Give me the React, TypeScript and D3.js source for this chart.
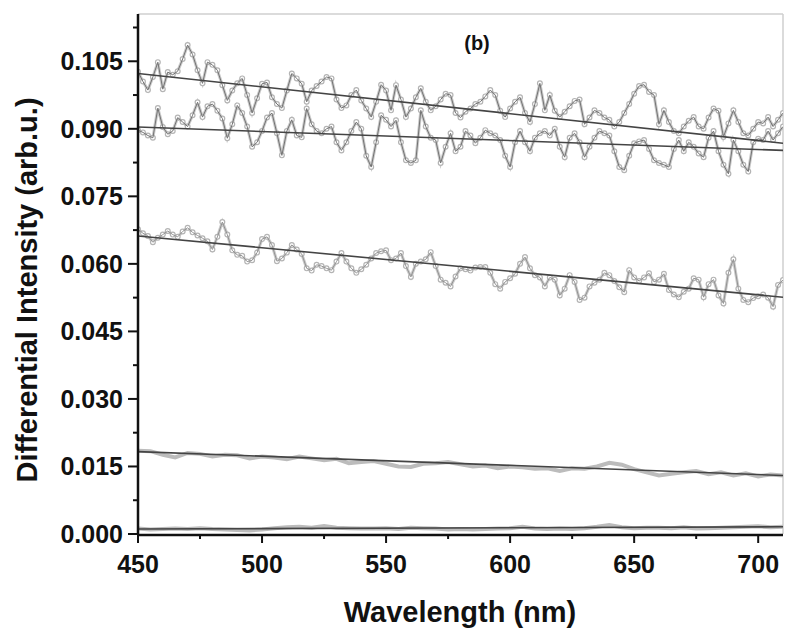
import * as d3 from 'd3';

// wavelength grids (nm)
const wl2 = d3.range(450, 711, 2);
const wl5 = d3.range(450, 711, 5);

// top spectrum, sampled every 2 nm
const seriesA = [
  0.1027, 0.1005, 0.0986, 0.1015, 0.1048, 0.0988, 0.1026, 0.1020, 0.1028, 0.1055,
  0.1086, 0.1065, 0.1030, 0.1001, 0.1048, 0.1042, 0.1030, 0.0997, 0.0963, 0.0985,
  0.1001, 0.1012, 0.0975, 0.0935, 0.0968, 0.1000, 0.1003, 0.0970, 0.0955, 0.0946,
  0.0985, 0.1023, 0.1012, 0.1000, 0.0960, 0.0985, 0.0995, 0.1005, 0.1015, 0.1012,
  0.0965, 0.0946, 0.0952, 0.0975, 0.0986, 0.0963, 0.0945, 0.0926, 0.0960, 0.0998,
  0.0985, 0.0941, 0.0997, 0.0965, 0.0926, 0.0945, 0.0970, 0.0990, 0.0960, 0.0941,
  0.0950, 0.0965, 0.0978, 0.0975, 0.0935, 0.0925, 0.0938, 0.0945, 0.0955, 0.0960,
  0.0972, 0.0986, 0.0975, 0.0940, 0.0926, 0.0945, 0.0960, 0.0970, 0.0935, 0.0915,
  0.0955, 0.1001, 0.0941, 0.0975, 0.0940, 0.0926, 0.0938, 0.0950, 0.0962, 0.0965,
  0.0910, 0.0925, 0.0941, 0.0935, 0.0925, 0.0920, 0.0905, 0.0915, 0.0935, 0.0955,
  0.0978, 0.0995, 0.0998, 0.0982, 0.0975, 0.0910, 0.0941, 0.0915, 0.0895, 0.0890,
  0.0905, 0.0918, 0.0926, 0.0905, 0.0900, 0.0925, 0.0945, 0.0940, 0.0882, 0.0912,
  0.0941, 0.0915, 0.0890, 0.0885, 0.0900, 0.0915, 0.0912, 0.0926, 0.0905, 0.0920,
  0.0935,
];

const seriesB = [
  0.0897, 0.0892, 0.0885, 0.0880, 0.0946, 0.0904, 0.0888, 0.0895, 0.0925, 0.0915,
  0.0905, 0.0930, 0.0959, 0.0926, 0.0950, 0.0955, 0.0940, 0.0923, 0.0879, 0.0910,
  0.0952, 0.0935, 0.0905, 0.0860, 0.0870, 0.0895, 0.0925, 0.0935, 0.0890, 0.0841,
  0.0895, 0.0920, 0.0885, 0.0881, 0.0945, 0.0910, 0.0895, 0.0890, 0.0900, 0.0905,
  0.0870, 0.0852, 0.0870, 0.0895, 0.0915, 0.0900, 0.0840, 0.0815, 0.0870, 0.0930,
  0.0920, 0.0905, 0.0919, 0.0870, 0.0830, 0.0824, 0.0830, 0.0941, 0.0905, 0.0880,
  0.0875, 0.0824, 0.0860, 0.0890, 0.0850, 0.0860, 0.0895, 0.0885, 0.0868, 0.0880,
  0.0897, 0.0890, 0.0885, 0.0875, 0.0840, 0.0815, 0.0870, 0.0895, 0.0870, 0.0850,
  0.0880, 0.0890, 0.0895, 0.0885, 0.0900, 0.0860, 0.0837, 0.0880, 0.0890, 0.0870,
  0.0837, 0.0860, 0.0880, 0.0895, 0.0890, 0.0885, 0.0850, 0.0815, 0.0808, 0.0840,
  0.0868, 0.0872, 0.0875, 0.0855, 0.0830, 0.0824, 0.0820, 0.0815, 0.0855, 0.0875,
  0.0850, 0.0870, 0.0860, 0.0845, 0.0837, 0.0880, 0.0895, 0.0850, 0.0820, 0.0800,
  0.0875, 0.0850, 0.0820, 0.0805, 0.0870, 0.0878, 0.0875, 0.0895, 0.0875, 0.0890,
  0.0905,
];

const seriesC = [
  0.0677, 0.0668, 0.0662, 0.0648, 0.0658, 0.0665, 0.0673, 0.0665, 0.0660, 0.0672,
  0.0680, 0.0670, 0.0663, 0.0657, 0.0650, 0.0632, 0.0660, 0.0693, 0.0665, 0.0630,
  0.0620, 0.0618, 0.0605, 0.0608, 0.0625, 0.0655, 0.0660, 0.0642, 0.0606, 0.0612,
  0.0625, 0.0642, 0.0632, 0.0622, 0.0590, 0.0585, 0.0598, 0.0595, 0.0590, 0.0586,
  0.0605, 0.0624, 0.0605, 0.0590, 0.0580, 0.0588, 0.0598, 0.0612, 0.0624, 0.0628,
  0.0630, 0.0608, 0.0612, 0.0624, 0.0595, 0.0571, 0.0600, 0.0605, 0.0610, 0.0626,
  0.0595, 0.0565, 0.0558, 0.0550, 0.0572, 0.0590, 0.0588, 0.0585, 0.0592, 0.0593,
  0.0593, 0.0580, 0.0555, 0.0545, 0.0560, 0.0568, 0.0578, 0.0600, 0.0615, 0.0590,
  0.0575, 0.0570, 0.0550, 0.0570, 0.0565, 0.0530, 0.0545, 0.0575, 0.0560, 0.0520,
  0.0525, 0.0550, 0.0558, 0.0565, 0.0580, 0.0575, 0.0562, 0.0548, 0.0537, 0.0586,
  0.0570, 0.0562, 0.0570, 0.0579, 0.0560, 0.0565, 0.0578, 0.0542, 0.0532, 0.0526,
  0.0538, 0.0545, 0.0568, 0.0565, 0.0526, 0.0555, 0.0565, 0.0530, 0.0512, 0.0580,
  0.0610, 0.0545, 0.0520, 0.0515, 0.0524, 0.0528, 0.0532, 0.0525, 0.0505, 0.0553,
  0.0564,
];

// the two low spectra, sampled every 5 nm
const seriesD = [
  0.0185, 0.0184, 0.0176, 0.0170, 0.0180, 0.0178, 0.0172, 0.0176, 0.0175, 0.0168,
  0.0172, 0.0170, 0.0166, 0.0172, 0.0168, 0.0164, 0.0167, 0.0157, 0.0160, 0.0162,
  0.0156, 0.0150, 0.0149, 0.0156, 0.0157, 0.0160, 0.0155, 0.0150, 0.0152, 0.0146,
  0.0150, 0.0148, 0.0145, 0.0146, 0.0140, 0.0146, 0.0145, 0.0150, 0.0158, 0.0154,
  0.0144, 0.0137, 0.0130, 0.0134, 0.0137, 0.0140, 0.0133, 0.0137, 0.0130, 0.0135,
  0.0128, 0.0132, 0.0130,
];

const seriesE = [
  0.0012, 0.0010, 0.0011, 0.0012, 0.0011, 0.0013, 0.0011, 0.0010, 0.0009, 0.0008,
  0.0010, 0.0013, 0.0015, 0.0016, 0.0014, 0.0018, 0.0014, 0.0013, 0.0012, 0.0012,
  0.0013, 0.0011, 0.0014, 0.0013, 0.0012, 0.0010, 0.0011, 0.0010, 0.0011, 0.0012,
  0.0013, 0.0016, 0.0012, 0.0011, 0.0012, 0.0011, 0.0013, 0.0016, 0.0020, 0.0015,
  0.0013, 0.0014, 0.0014, 0.0013, 0.0015, 0.0012, 0.0013, 0.0014, 0.0015, 0.0016,
  0.0017, 0.0015, 0.0016,
];

// linear fits: value at 450 nm and at 710 nm
const fitRange = [450, 710];
const fitStart = [0.1023, 0.0904, 0.0662, 0.0183, 0.0011];
const fitEnd = [0.0868, 0.0852, 0.0526, 0.0130, 0.0016];

const yMajor = [0, 0.015, 0.03, 0.045, 0.06, 0.075, 0.09, 0.105];
const yMinor = [0.0075, 0.0225, 0.0375, 0.0525, 0.0675, 0.0825, 0.0975, 0.1125];
const xMajor = [450, 500, 550, 600, 650, 700];
const xMinor = [475, 525, 575, 625, 675];

const W = 800;
const H = 634;
const left = 138;
const right = 783;
const top = 14;
const bottom = 534;

export default function App() {
  const x = d3.scaleLinear().domain([450, 710]).range([left, right]);
  const y = d3.scaleLinear().domain([0, 0.1155]).range([bottom, top]);
  const line = d3.line<[number, number]>().x(d => x(d[0])).y(d => y(d[1]));
  const fmt = d3.format('.3f');

  const noisy = [seriesA, seriesB, seriesC].map(s => s.map((v, i) => [wl2[i], v] as [number, number]));
  const smooth = [seriesD, seriesE].map(s => s.map((v, i) => [wl5[i], v] as [number, number]));

  return (
    <svg width={W} height={H} style={{ position: 'absolute', left: 0, top: 0, background: '#fff' }}
      fontFamily="'Liberation Sans', Arial, sans-serif">
      <defs>
        <clipPath id="plot">
          <rect x={left} y={top} width={right - left} height={bottom - top + 2} />
        </clipPath>
      </defs>

      {/* frame */}
      <line x1={left} x2={right} y1={top} y2={top} stroke="#cfcfcf" strokeWidth={1.5} />
      <line x1={right} x2={right} y1={top} y2={bottom} stroke="#cfcfcf" strokeWidth={1.5} />

      <g clipPath="url(#plot)">
        {smooth.map((pts, k) => (
          <g key={'s' + k}>
            <path d={line(pts) || ''} fill="none" stroke="#bcbcbc" strokeWidth={4} />
          </g>
        ))}
        {noisy.map((pts, k) => (
          <g key={'n' + k}>
            <path d={line(pts) || ''} fill="none" stroke="#cacaca" strokeWidth={3} />
            {pts.map((p, i) => (
              <circle key={i} cx={x(p[0])} cy={y(p[1])} r={2.4} fill="#fff" stroke="#b4b4b4" strokeWidth={1.2} />
            ))}
            <path d={line(pts) || ''} fill="none" stroke={k === 2 ? '#939393' : '#737373'} strokeWidth={1} />
          </g>
        ))}
        {fitStart.map((v, k) => (
          <path key={'f' + k}
            d={line([[fitRange[0], v], [fitRange[1], fitEnd[k]]]) || ''}
            fill="none" stroke="#444" strokeWidth={1.6} />
        ))}
      </g>

      {/* y axis */}
      <line x1={left} x2={left} y1={top} y2={bottom + 1} stroke="#111" strokeWidth={2.5} />
      {yMajor.map(v => (
        <g key={'ym' + v}>
          <line x1={left - 10} x2={left} y1={y(v)} y2={y(v)} stroke="#111" strokeWidth={2} />
          <text x={left - 15} y={y(v)} dy="0.36em" textAnchor="end" fontSize={25} fontWeight="bold" fill="#111">
            {fmt(v)}
          </text>
        </g>
      ))}
      {yMinor.map(v => (
        <line key={'yn' + v} x1={left - 5} x2={left} y1={y(v)} y2={y(v)} stroke="#111" strokeWidth={2} />
      ))}

      {/* x axis */}
      <line x1={left - 1} x2={right} y1={bottom + 1} y2={bottom + 1} stroke="#111" strokeWidth={2.5} />
      {xMajor.map(v => (
        <g key={'xm' + v}>
          <line x1={x(v)} x2={x(v)} y1={bottom} y2={bottom + 9} stroke="#111" strokeWidth={2} />
          <text x={x(v)} y={573} textAnchor="middle" fontSize={25} fontWeight="bold" fill="#111">{v}</text>
        </g>
      ))}
      {xMinor.map(v => (
        <line key={'xn' + v} x1={x(v)} x2={x(v)} y1={bottom} y2={bottom + 5} stroke="#111" strokeWidth={2} />
      ))}

      <text x={460} y={622} textAnchor="middle" fontSize={29} fontWeight="bold" fill="#111">Wavelength (nm)</text>
      <text transform={`translate(37, 290) rotate(-90)`} textAnchor="middle"
        fontSize={29} fontWeight="bold" fill="#111">Differential Intensity (arb.u.)</text>
      <text x={477} y={50} textAnchor="middle" fontSize={20} fontWeight="bold" fill="#111">(b)</text>
    </svg>
  );
}
